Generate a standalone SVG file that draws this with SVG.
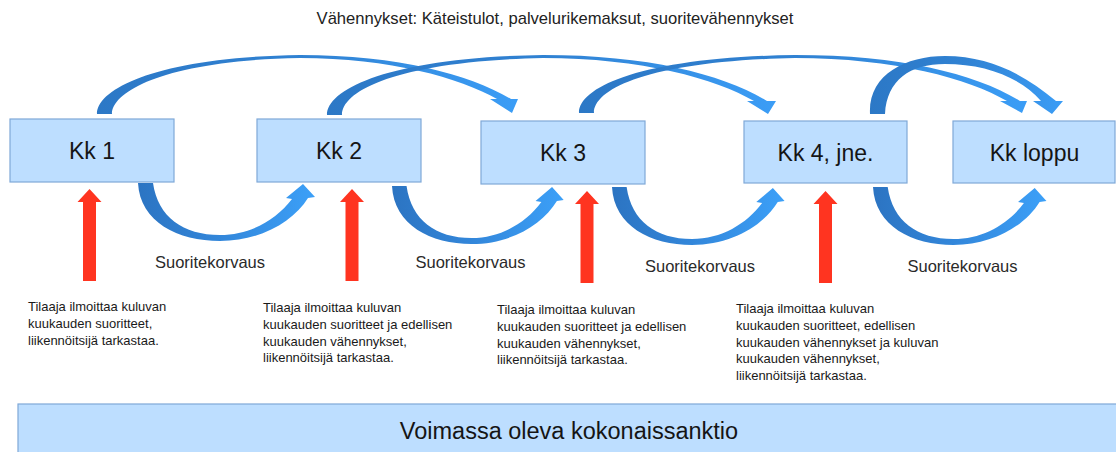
<svg xmlns="http://www.w3.org/2000/svg" xmlns:xlink="http://www.w3.org/1999/xlink" width="1116" height="452" viewBox="0 0 1116 452">
<style>
.box{fill:#bddeff;stroke:#7fa8d8;stroke-width:1.2}
.lbl{font-family:"Liberation Sans",Arial,sans-serif;font-size:23px;fill:#151515;text-anchor:middle}
.title{font-family:"Liberation Sans",Arial,sans-serif;font-size:16.6px;fill:#222;text-anchor:middle}
.sk{font-family:"Liberation Sans",Arial,sans-serif;font-size:16.5px;fill:#2a2a2a;text-anchor:middle}
.desc{font-family:"Liberation Sans",Arial,sans-serif;font-size:13px;fill:#1a1a1a}
.big{font-family:"Liberation Sans",Arial,sans-serif;font-size:23.5px;fill:#151515;text-anchor:middle}
.red{fill:#ff3420}
.arc{fill:url(#gTop)}
.loop{fill:url(#gLoop)}
</style>
<defs>
<linearGradient id="gTop" x1="0" y1="0" x2="1" y2="0">
<stop offset="0" stop-color="#2c78c6"/>
<stop offset="0.5" stop-color="#3082d3"/>
<stop offset="1" stop-color="#3b9df6"/>
</linearGradient>
<linearGradient id="gLoop" x1="0" y1="0" x2="1" y2="0">
<stop offset="0" stop-color="#2c74c2"/>
<stop offset="0.5" stop-color="#3388dc"/>
<stop offset="1" stop-color="#3ca0f8"/>
</linearGradient>
<path id="loopShape" class="loop" d="M0,1 C2,40 40,59 82,59 C122,59 155,40 170,16 L177,15 L165,2 L148,16 L154,17 C138,38 112,53 82,53 C45,53 20,35 15,1 Z"/>
<path id="redArrow" class="red" d="M0,0 L12,13 L6.5,13 L6.5,92 L-6.5,92 L-6.5,13 L-12,13 Z"/>
</defs>

<text class="title" x="555" y="24">Vähennykset: Käteistulot, palvelurikemaksut, suoritevähennykset</text>

<g id="connectors">
<path class="arc" d="M97,114 C97,88 160,57 300,55 C400,55 470,75 511,99 L518,99 L512,113 L490,99 L497,99 C460,78 390,58 300,58 C170,60 112,90 112,114 Z"/>
<path class="arc" d="M327,115 C327,88 394,57 543,55 C650,55 724,75 767,101 L776,101 L768,114 L747,101 L754,101 C716,79 642,58 543,58 C400,61 342,90 342,115 Z"/>
<path class="arc" d="M579,113 C579,86 646,57 795,55 C902,55 976,74 1020,101 L1027,101 L1022,113 L1000,101 L1007,101 C969,79 895,58 795,58 C652,61 594,88 594,113 Z"/>
<path class="arc" d="M870,114 C868,75 905,56 945,56 C990,56 1025,75 1056,101 L1063,101 L1052,114 L1033,101 L1041,101 C1020,77 985,64 945,64 C910,64 887,80 885,114 Z"/>
<use xlink:href="#loopShape" transform="translate(138,182)"/>
<use xlink:href="#loopShape" transform="translate(392,185) scale(0.97,1)"/>
<use xlink:href="#loopShape" transform="translate(612,186) scale(0.975,1)"/>
<use xlink:href="#loopShape" transform="translate(873,186) scale(0.98,1)"/>
<use xlink:href="#redArrow" transform="translate(89.5,189)"/>
<use xlink:href="#redArrow" transform="translate(352,189)"/>
<use xlink:href="#redArrow" transform="translate(587,191)"/>
<use xlink:href="#redArrow" transform="translate(825.5,191)"/>
</g>

<g id="kk1"><rect class="box" x="10" y="119" width="164" height="63"/><text class="lbl" x="92" y="159">Kk 1</text></g>
<g id="kk2"><rect class="box" x="257" y="119" width="164" height="63"/><text class="lbl" x="339" y="159">Kk 2</text></g>
<g id="kk3"><rect class="box" x="481" y="121" width="164" height="63"/><text class="lbl" x="563" y="161">Kk 3</text></g>
<g id="kk4"><rect class="box" x="744" y="121" width="163" height="62"/><text class="lbl" x="825.5" y="161">Kk 4, jne.</text></g>
<g id="kkloppu"><rect class="box" x="953" y="121" width="162" height="62"/><text class="lbl" x="1034.5" y="161">Kk loppu</text></g>

<g id="labels">
<text class="sk" x="210" y="268">Suoritekorvaus</text>
<text class="sk" x="470.5" y="268">Suoritekorvaus</text>
<text class="sk" x="700" y="272">Suoritekorvaus</text>
<text class="sk" x="962.5" y="272">Suoritekorvaus</text>
<text class="desc" x="28" y="311"><tspan x="28">Tilaaja ilmoittaa kuluvan</tspan><tspan x="28" dy="16.8">kuukauden suoritteet,</tspan><tspan x="28" dy="16.8">liikennöitsijä tarkastaa.</tspan></text>
<text class="desc" x="263" y="312"><tspan x="263">Tilaaja ilmoittaa kuluvan</tspan><tspan x="263" dy="16.8">kuukauden suoritteet ja edellisen</tspan><tspan x="263" dy="16.8">kuukauden vähennykset,</tspan><tspan x="263" dy="16.8">liikennöitsijä tarkastaa.</tspan></text>
<text class="desc" x="497" y="314"><tspan x="497">Tilaaja ilmoittaa kuluvan</tspan><tspan x="497" dy="16.8">kuukauden suoritteet ja edellisen</tspan><tspan x="497" dy="16.8">kuukauden vähennykset,</tspan><tspan x="497" dy="16.8">liikennöitsijä tarkastaa.</tspan></text>
<text class="desc" x="736" y="313"><tspan x="736">Tilaaja ilmoittaa kuluvan</tspan><tspan x="736" dy="16.8">kuukauden suoritteet, edellisen</tspan><tspan x="736" dy="16.8">kuukauden vähennykset ja kuluvan</tspan><tspan x="736" dy="16.8">kuukauden vähennykset,</tspan><tspan x="736" dy="16.8">liikennöitsijä tarkastaa.</tspan></text>
</g>

<g id="kokonaissanktio"><rect class="box" x="18" y="404" width="1110" height="60"/><text class="big" x="569" y="439">Voimassa oleva kokonaissanktio</text></g>
</svg>
